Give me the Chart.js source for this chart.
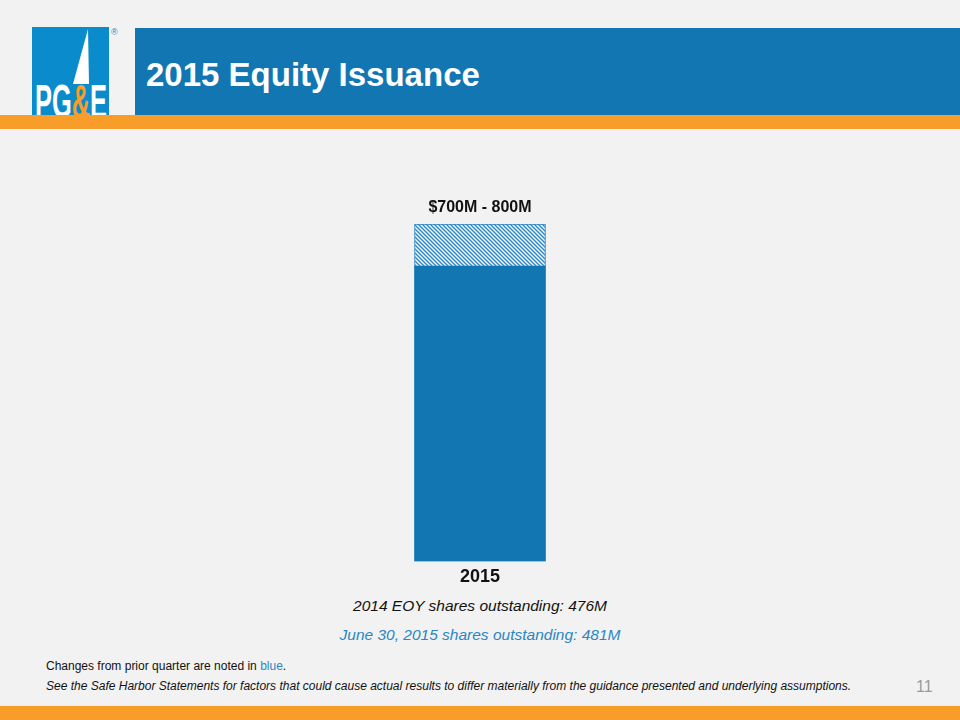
<!DOCTYPE html>
<html>
<head>
<meta charset="utf-8">
<script src="https://cdn.jsdelivr.net/npm/chart.js@4/dist/chart.umd.min.js"></script>
<style>
  html, body { margin:0; padding:0; }
  body { width:960px; height:720px; background:#f2f2f2; position:relative; overflow:hidden; font-family:"Liberation Sans", Arial, sans-serif; }
  .abs { position:absolute; }
  #banner { left:135px; top:28px; width:825px; height:88px; background:#1176b2; }
  #title { left:146px; top:56px; color:#fff; font-weight:bold; font-size:33px; white-space:nowrap; }
  #orangeTop { left:0; top:115px; width:960px; height:14px; background:#f89c2a; }
  #orangeBot { left:0; top:706px; width:960px; height:14px; background:#f89c2a; }
  #logo { left:32px; top:27px; }
  #chartBox { left:300px; top:190px; width:360px; height:403px; }
  .txt { white-space:nowrap; }
</style>
</head>
<body>
<div id="banner" class="abs"></div>
<div id="title" class="abs txt">2015 Equity Issuance</div>
<svg id="logo" class="abs" width="95" height="90" viewBox="0 0 95 90">
  <rect x="0" y="0" width="77" height="89" fill="#0a8ccc"/>
  <polygon points="56,2 57,57 41,57" fill="#ffffff"/>
  <text x="3" y="91" font-family="Liberation Sans Narrow, Liberation Sans, Arial" font-weight="bold" font-size="48" fill="#ffffff" textLength="72" lengthAdjust="spacingAndGlyphs">PG<tspan fill="#f89c2a">&amp;</tspan>E</text>
  <text x="79" y="8" font-family="Liberation Sans, Arial" font-size="9" fill="#0a8ccc">®</text>
</svg>
<div id="orangeTop" class="abs"></div>
<div id="orangeBot" class="abs"></div>
<div id="chartBox" class="abs"><canvas id="c"></canvas></div>

<div class="abs txt" style="left:0;width:960px;text-align:center;top:597px;font-size:15.5px;font-style:italic;color:#111;">2014 EOY shares outstanding: 476M</div>
<div class="abs txt" style="left:0;width:960px;text-align:center;top:626px;font-size:15.5px;font-style:italic;color:#2a86c4;">June 30, 2015 shares outstanding: 481M</div>
<div class="abs txt" style="left:46px;top:659px;font-size:12px;color:#111;">Changes from prior quarter are noted in <span style="color:#2a86c4">blue</span>.</div>
<div class="abs txt" style="left:46px;top:679px;font-size:12px;font-style:italic;color:#111;">See the Safe Harbor Statements for factors that could cause actual results to differ materially from the guidance presented and underlying assumptions.</div>
<div class="abs txt" style="left:916px;top:678px;font-size:16px;color:#9a9a9a;">11</div>

<script>
const categories = ['2015'];
const baseValues = [700];
const rangeValues = [100];
const rangeLabels = ['$700M - 800M'];

function makeHatch() {
  const s = 4;
  const p = document.createElement('canvas');
  p.width = s; p.height = s;
  const g = p.getContext('2d');
  g.fillStyle = '#eef5fb';
  g.fillRect(0, 0, s, s);
  g.strokeStyle = '#2a86c4';
  g.lineWidth = 1.3;
  g.beginPath();
  g.moveTo(0, 0); g.lineTo(s, s);
  g.moveTo(-1, s - 1); g.lineTo(1, s + 1);
  g.moveTo(s - 1, -1); g.lineTo(s + 1, 1);
  g.stroke();
  return document.getElementById('c').getContext('2d').createPattern(p, 'repeat');
}

const labelPlugin = {
  id: 'topLabel',
  afterDatasetsDraw(chart) {
    const ctx = chart.ctx;
    const meta = chart.getDatasetMeta(1);
    meta.data.forEach((bar, i) => {
      ctx.save();
      ctx.font = 'bold 16px "Liberation Sans", Arial, sans-serif';
      ctx.fillStyle = '#111';
      ctx.textAlign = 'center';
      ctx.textBaseline = 'bottom';
      ctx.fillText(rangeLabels[i], bar.x, bar.y - 8);
      ctx.restore();
    });
  }
};

new Chart(document.getElementById('c'), {
  type: 'bar',
  data: {
    labels: categories,
    datasets: [
      { data: baseValues, backgroundColor: '#1176b2', borderWidth: 0, barThickness: 131 },
      { data: rangeValues, backgroundColor: makeHatch(), borderColor: '#2a86c4', borderWidth: 1, barThickness: 131 }
    ]
  },
  options: {
    responsive: true,
    maintainAspectRatio: false,
    animation: false,
    layout: { padding: { top: 34, left: 0, right: 0, bottom: 0 } },
    plugins: { legend: { display: false }, tooltip: { enabled: false } },
    scales: {
      x: {
        stacked: true,
        grid: { display: false, drawTicks: false },
        border: { display: false },
        ticks: { color: '#111', padding: 5, font: { family: '"Liberation Sans", Arial, sans-serif', size: 18, weight: 'bold' } }
      },
      y: { stacked: true, display: false, min: 0, max: 800 }
    }
  },
  plugins: [labelPlugin]
});
</script>
</body>
</html>
